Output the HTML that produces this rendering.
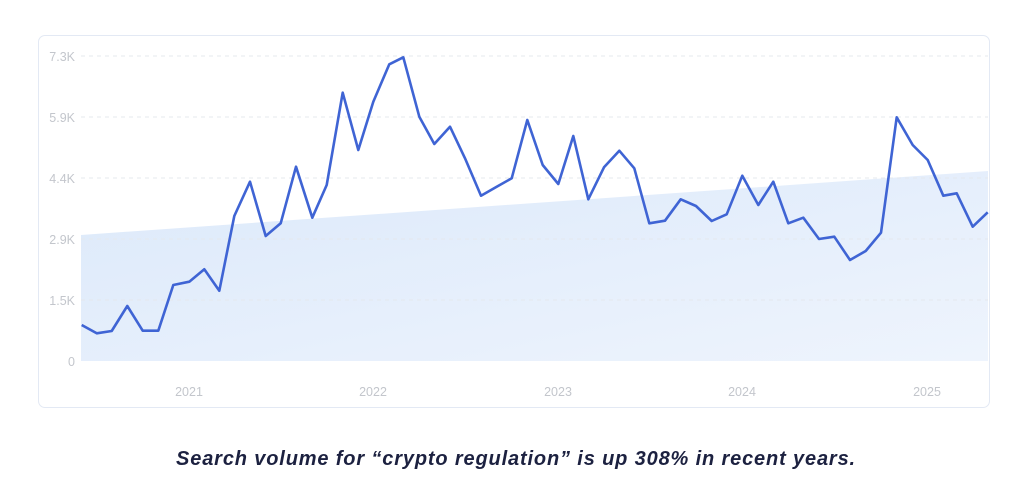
<!DOCTYPE html>
<html><head><meta charset="utf-8"><style>
body{margin:0;background:#fff;width:1024px;height:484px;overflow:hidden;font-family:"Liberation Sans",sans-serif}
.card{position:absolute;left:38px;top:35px;width:952px;height:373px;border:1.5px solid #e3e9f4;border-radius:7px;box-sizing:border-box}
.cap{position:absolute;left:4px;width:1024px;top:448px;text-align:center;font-weight:bold;font-style:italic;font-size:20px;letter-spacing:0.85px;color:#1c2140}
</style></head><body>
<div class="card"></div>
<svg width="1024" height="484" style="position:absolute;left:0;top:0">
<defs><linearGradient id="g" x1="0" y1="0" x2="1" y2="1"><stop offset="0" stop-color="#dce9fa"/><stop offset="1" stop-color="#eef4fd"/></linearGradient></defs>
<polygon points="81,235 988,171 988,361 81,361" fill="url(#g)"/>
<g stroke="#e4e8ee" stroke-dasharray="4,4" stroke-width="1">
<line x1="81" x2="988" y1="56" y2="56"/><line x1="81" x2="988" y1="117" y2="117"/><line x1="81" x2="988" y1="178" y2="178"/><line x1="81" x2="988" y1="239" y2="239"/><line x1="81" x2="988" y1="300" y2="300"/></g>
<g fill="#c3c6cc" font-size="12.5" text-anchor="end" font-family="Liberation Sans">
<text x="75" y="61">7.3K</text><text x="75" y="122">5.9K</text><text x="75" y="183">4.4K</text><text x="75" y="244">2.9K</text><text x="75" y="305">1.5K</text><text x="75" y="366">0</text></g>
<g fill="#c3c6cc" font-size="12.5" text-anchor="middle" font-family="Liberation Sans">
<text x="189" y="396">2021</text><text x="373" y="396">2022</text><text x="558" y="396">2023</text><text x="742" y="396">2024</text><text x="927" y="396">2025</text></g>
<polyline fill="none" stroke="#3f64d4" stroke-width="2.6" stroke-linejoin="round" points="81.7,325 96.7,333.3 111.7,331 127.3,306 142.7,330.7 158.3,330.7 173.3,285 189.3,281.7 204.3,269.3 219.3,290.7 234.3,216 250,181.7 265.7,236 280.7,223.3 296,166.7 312.3,217.7 326.7,185 342.7,92.7 358.3,150 373.3,101.7 389.3,64.3 403.3,57.3 419.3,116.7 434.3,144 450,126.7 465,158.3 481,195.7 496.7,186.7 511.7,178.3 527.3,120 542.7,165 558.3,184 573.3,136 588.3,199.3 604,167.3 619.3,150.7 634.3,168.3 649.3,223.3 665,220.7 680.7,199.3 696,206 711.7,221 726.7,214.3 742.3,175.7 758.3,205 773.3,181.7 788.3,223.3 803.3,217.7 819,239 834.3,236.7 850,260 865.7,251 881,232.7 896.7,117.3 912.7,145 927.7,160 943.3,195.7 956.7,193.3 972.7,226.7 987.7,212.3"/>
</svg>
<div class="cap">Search volume for “crypto regulation” is up 308% in recent years.</div>
</body></html>
